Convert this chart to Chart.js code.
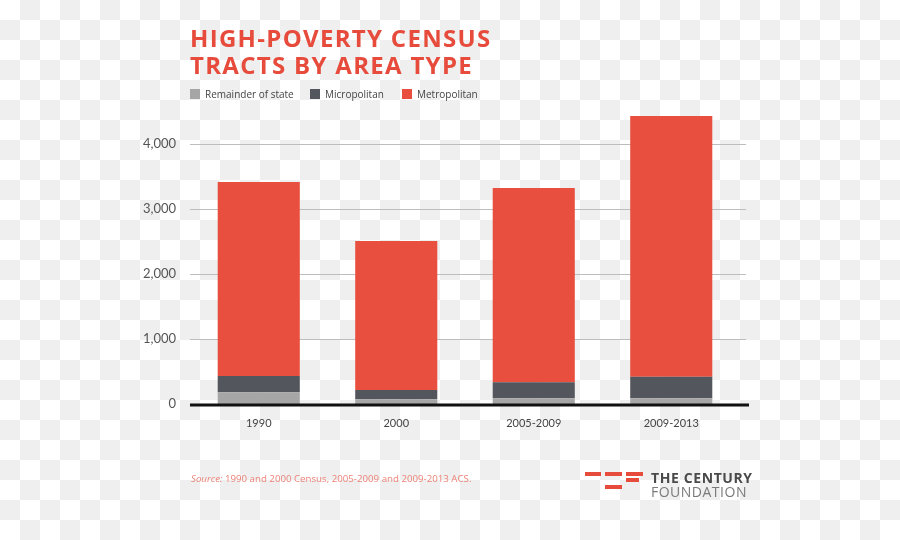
<!DOCTYPE html>
<html>
<head>
<meta charset="utf-8">
<script src="https://cdn.jsdelivr.net/npm/chart.js@4.4.1/dist/chart.umd.min.js"></script>
<style>
  html, body { margin: 0; padding: 0; }
  body {
    width: 900px; height: 540px; overflow: hidden; position: relative;
    background: repeating-conic-gradient(#efefef 0 25%, #ffffff 0 50%) 0 0 / 40px 40px;
    font-family: "Open Sans", sans-serif;
  }
  #wrap { position: absolute; left: 0; top: 0; width: 900px; height: 540px; }
  #title {
    position: absolute; left: 190px; top: 24px; margin: 0;
    color: #e64b3c; font: 700 24px/27px "Open Sans", sans-serif; letter-spacing: 1.3px;
  }
  #legend { position: absolute; left: 190px; top: 86px; height: 16px; font: 400 10px "Open Sans", sans-serif; color: #444; }
  .li { position: absolute; top: 0; white-space: nowrap; line-height: 16px; }
  .sw { position: absolute; top: 3px; width: 10px; height: 10px; }
  .lt { position: absolute; top: 0; left: 15px; }
  #source { position: absolute; left: 191px; top: 472px; font: 400 9.7px "Open Sans", sans-serif; color: #ec8277; white-space: nowrap; }
  #logo1 { position: absolute; left: 651px; top: 468px; font: 700 14px "Open Sans", sans-serif; color: #4a4a4a; white-space: nowrap; letter-spacing: 0.6px; }
  #logo2 { position: absolute; left: 651px; top: 482px; font: 400 14px "Open Sans", sans-serif; color: #7a7a7a; white-space: nowrap; letter-spacing: 0.5px; }
  .lb { position: absolute; background: #e64b3c; height: 4px; }
</style>
</head>
<body>
<div id="wrap"><canvas id="c" width="900" height="540"></canvas></div>
<h1 id="title">HIGH-POVERTY CENSUS<br>TRACTS BY AREA TYPE</h1>
<div id="legend"></div>
<div id="source"><i>Source:</i> 1990 and 2000 Census, 2005-2009 and 2009-2013 ACS.</div>
<div class="lb" style="left:585px;top:472px;width:16px"></div>
<div class="lb" style="left:605px;top:472px;width:17px"></div>
<div class="lb" style="left:626px;top:472px;width:17px"></div>
<div class="lb" style="left:626px;top:478px;width:13px"></div>
<div class="lb" style="left:605px;top:485px;width:17px"></div>
<div id="logo1">THE CENTURY</div>
<div id="logo2">FOUNDATION</div>
<script>
const categories = ["1990", "2000", "2005-2009", "2009-2013"];
const seriesNames = ["Remainder of state", "Micropolitan", "Metropolitan"];
const remainderValues = [180, 72, 88, 88];
const micropolitanValues = [251, 143, 246, 332];
const metropolitanValues = [2984, 2293, 2989, 4011];
const yTickValues = [0, 1000, 2000, 3000, 4000];
const seriesColors = ["#a6a6a6", "#53565c", "#e84f3f"];

const legend = document.getElementById('legend');
const legendX = [0, 120, 212];
seriesNames.forEach((n, i) => {
  const d = document.createElement('div');
  d.className = 'li';
  d.style.left = legendX[i] + 'px';
  d.innerHTML = '<span class="sw" style="background:' + seriesColors[i] + '"></span><span class="lt">' + n + '</span>';
  legend.appendChild(d);
});

const gridPlugin = {
  id: 'customGrid',
  beforeDatasetsDraw(chart) {
    const y = chart.scales.y, ctx = chart.ctx;
    ctx.save();
    ctx.strokeStyle = '#bdbdbd';
    ctx.lineWidth = 1;
    y.ticks.forEach(t => {
      if (t.value === 0) return;
      const py = Math.round(y.getPixelForValue(t.value)) + 0.5;
      ctx.beginPath();
      ctx.moveTo(chart.chartArea.left, py);
      ctx.lineTo(746, py);
      ctx.stroke();
    });
    ctx.restore();
  },
  afterDatasetsDraw(chart) {
    const y = chart.scales.y, ctx = chart.ctx;
    const py = y.getPixelForValue(0) + 1;
    ctx.save();
    ctx.strokeStyle = '#111111';
    ctx.lineWidth = 3;
    ctx.beginPath();
    ctx.moveTo(chart.chartArea.left, py);
    ctx.lineTo(749, py);
    ctx.stroke();
    ctx.restore();
  }
};

new Chart(document.getElementById('c'), {
  type: 'bar',
  data: {
    labels: categories,
    datasets: [
      { label: seriesNames[0], data: remainderValues, backgroundColor: seriesColors[0] },
      { label: seriesNames[1], data: micropolitanValues, backgroundColor: seriesColors[1] },
      { label: seriesNames[2], data: metropolitanValues, backgroundColor: seriesColors[2] }
    ]
  },
  options: {
    responsive: false,
    animation: false,
    devicePixelRatio: 1,
    layout: { padding: { left: 130, right: 160, top: 111.5, bottom: 106 } },
    datasets: { bar: { barPercentage: 0.597, categoryPercentage: 1.0, borderWidth: 0 } },
    plugins: { legend: { display: false }, tooltip: { enabled: false }, title: { display: false } },
    scales: {
      x: {
        stacked: true,
        afterFit: s => { s.height = 30; },
        grid: { display: false },
        border: { display: false },
        ticks: { color: '#444', font: { family: 'Lato', size: 11 }, padding: 5, maxRotation: 0 }
      },
      y: {
        stacked: true,
        min: 0, max: 4500,
        afterFit: s => { s.width = 60; },
        afterBuildTicks: s => { s.ticks = yTickValues.map(v => ({ value: v })); },
        grid: { display: false },
        border: { display: false },
        ticks: {
          color: '#555', font: { family: 'Lato', size: 13 }, padding: 6,
          callback: v => v.toLocaleString('en-US')
        }
      }
    }
  },
  plugins: [gridPlugin]
});
</script>
</body>
</html>
